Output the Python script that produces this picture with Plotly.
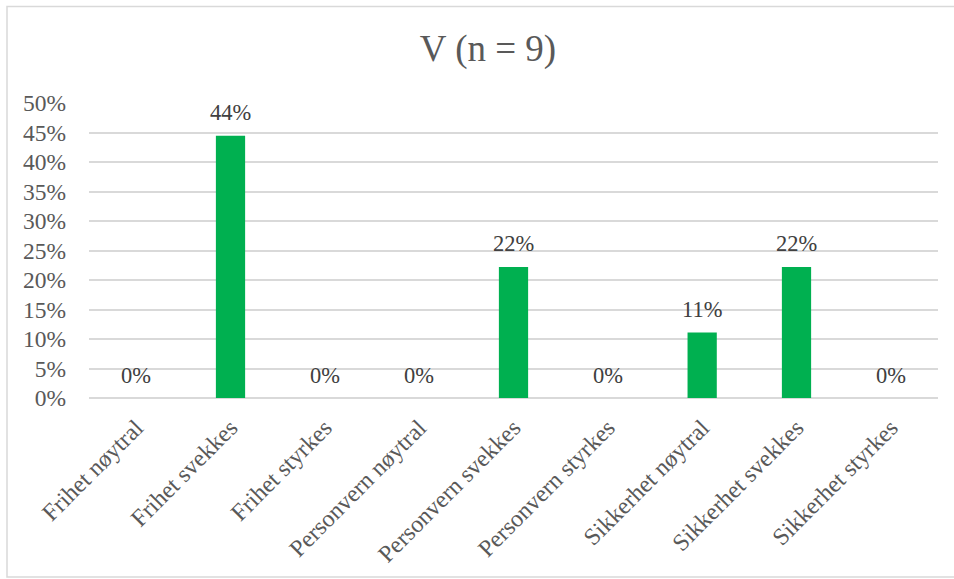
import plotly.graph_objects as go

categories = ["Frihet nøytral", "Frihet svekkes", "Frihet styrkes",
              "Personvern nøytral", "Personvern svekkes", "Personvern styrkes",
              "Sikkerhet nøytral", "Sikkerhet svekkes", "Sikkerhet styrkes"]
values = [0, 4/9, 0, 0, 2/9, 0, 1/9, 2/9, 0]
labels = ["0%", "44%", "0%", "0%", "22%", "0%", "11%", "22%", "0%"]
y_ticks = [0, 0.05, 0.10, 0.15, 0.20, 0.25, 0.30, 0.35, 0.40, 0.45, 0.50]
y_ticktext = ["0%", "5%", "10%", "15%", "20%", "25%", "30%", "35%", "40%", "45%", "50%"]

FONT = "Liberation Serif, Times New Roman, serif"
W, H = 954, 579
L, R, T, B = 89, 16, 103, 181
pw, ph = W - L - R, H - T - B

fig = go.Figure()
fig.add_trace(go.Bar(x=categories, y=values, marker=dict(color="#00B050", line=dict(width=0)),
                     hoverinfo="skip"))

for c, v, t in zip(categories, values, labels):
    fig.add_annotation(x=c, y=v, text=t, showarrow=False, yanchor="middle", yshift=23,
                       font=dict(family=FONT, size=22.5, color="#404040"))

# outer chart border
def px_x(p):
    return (p - L) / pw
def px_y(p):
    return 1 - (p - T) / ph

fig.add_shape(type="rect", xref="paper", yref="paper",
              x0=px_x(7), x1=px_x(960), y0=px_y(577), y1=px_y(6.5),
              line=dict(color="#D9D9D9", width=1.5), fillcolor="rgba(0,0,0,0)", layer="below")

fig.update_layout(
    width=W, height=H,
    margin=dict(l=L, r=R, t=T, b=B, pad=0),
    paper_bgcolor="white", plot_bgcolor="white",
    bargap=0.69,
    showlegend=False,
    title=dict(text="V (n = 9)", x=(488 - L) / pw, xref="paper", xanchor="center",
               y=1 - 48 / H, yanchor="middle",
               font=dict(family=FONT, size=37, color="#595959")),
    font=dict(family=FONT, color="#595959"),
)
fig.update_yaxes(range=[0, 0.5], tickvals=y_ticks, ticktext=y_ticktext,
                 showgrid=True, gridcolor="#D9D9D9", gridwidth=1.5,
                 zeroline=True, zerolinecolor="#D9D9D9", zerolinewidth=1.5,
                 showline=False, ticks="", ticklabelstandoff=22,
                 tickfont=dict(family=FONT, size=23.5, color="#595959"))
fig.update_xaxes(tickangle=-45, showgrid=False, showline=False, ticks="",
                 ticklabelstandoff=10,
                 tickfont=dict(family=FONT, size=24, color="#595959"))

fig.write_html("out.html")
